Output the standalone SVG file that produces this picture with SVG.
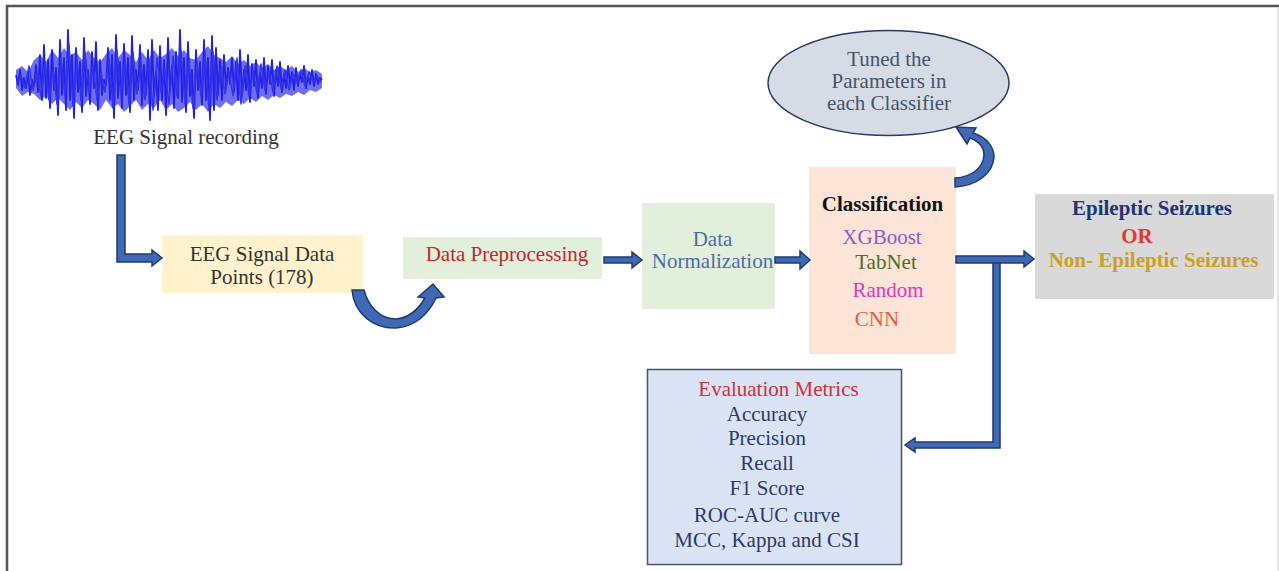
<svg xmlns="http://www.w3.org/2000/svg" width="1279" height="571" viewBox="0 0 1279 571">
<defs>
<style>
text{font-family:"Liberation Serif","Times New Roman",serif;font-size:21px;text-anchor:middle}
.b{font-weight:bold}
.arrow{fill:#3F68B5;stroke:#1F3B70;stroke-width:1.5;stroke-linejoin:miter}
.dark{fill:#333333}
.nav{fill:#2B3A67}
</style>
</defs>
<rect x="0" y="0" width="1279" height="571" fill="#ffffff"/>
<g id="frame">
<line x1="6" y1="6" x2="1279" y2="6" stroke="#555555" stroke-width="2.5"/>
<line x1="7" y1="5" x2="7" y2="571" stroke="#555555" stroke-width="2.5"/>
<line x1="1278" y1="7" x2="1278" y2="571" stroke="#dddddd" stroke-width="1.5"/>
</g>
<g id="eeg-recording">
<polygon fill="#3030E8" opacity="0.7" points="16,70 22,66 28,72 34,60 40,55 46,62 52,50 58,58 64,48 70,56 76,52 82,60 88,50 94,58 100,62 106,54 112,48 118,58 124,50 130,55 136,62 142,52 148,60 154,50 160,58 166,54 172,48 178,56 184,50 190,58 196,60 202,52 208,46 214,55 220,58 226,62 232,56 238,64 244,60 250,66 256,62 262,68 268,64 274,70 280,66 286,70 292,66 298,72 304,68 310,72 316,70 322,74 322,88 316,92 310,90 304,95 298,92 292,96 286,94 280,98 274,95 268,100 262,96 256,102 250,98 244,104 238,100 232,106 226,102 220,108 214,104 208,112 202,104 196,110 190,102 184,108 178,112 172,104 166,110 160,100 154,108 148,104 142,110 136,100 130,106 124,112 118,104 112,108 106,100 100,110 94,104 88,100 82,108 76,102 70,110 64,104 58,98 52,104 46,96 40,100 34,94 28,92 22,96 16,88"/>
<polyline fill="none" stroke="#2222E6" stroke-width="1.8" stroke-linejoin="round" points="16,75 18,85 20,70 22,90 24,78 26,88 28,72 30,95 32,80 34,86 36,65 38,92 40,55 42,100 44,45 46,98 48,60 50,108 52,50 54,90 56,68 58,115 60,40 62,95 64,58 66,110 68,30 70,100 72,55 74,118 76,48 78,92 80,62 82,112 84,38 86,96 88,70 90,104 92,52 94,88 96,42 98,110 100,60 102,95 104,80 106,85 108,48 110,100 112,55 114,118 116,35 118,98 120,62 122,108 124,44 126,95 128,58 130,112 132,36 134,100 136,70 138,90 140,45 142,105 144,65 146,95 148,50 150,120 152,40 154,96 156,72 158,110 160,46 162,100 164,60 166,115 168,38 170,92 172,66 174,108 176,52 178,98 180,30 182,102 184,58 186,112 188,42 190,96 192,70 194,118 196,50 198,90 200,62 202,105 204,40 206,100 208,58 210,120 212,36 214,110 216,48 218,95 220,60 222,100 224,55 226,88 228,68 230,84 232,58 234,92 236,62 238,100 240,50 242,96 244,70 246,90 248,55 250,102 252,64 254,86 256,60 258,98 260,72 262,88 264,58 266,94 268,66 270,84 272,60 274,96 276,70 278,86 280,62 282,92 284,74 286,88 288,66 290,84 292,72 294,90 296,68 298,86 300,74 302,82 304,66 306,88 308,76 310,84 312,70 314,86 316,74 318,84 320,78 322,80"/>
<polyline fill="none" stroke="#3333EE" stroke-width="1.5" stroke-linejoin="round" points="17,82 21,76 25,88 29,66 33,90 37,74 41,96 45,62 49,100 53,70 57,104 61,58 65,96 69,44 73,106 77,60 81,100 85,52 89,92 93,66 97,100 101,72 105,92 109,58 113,108 117,50 121,96 125,60 129,104 133,52 137,94 141,62 145,100 149,60 153,110 157,58 161,92 165,70 169,104 173,56 177,96 181,50 185,104 189,60 193,108 197,64 201,96 205,54 209,110 213,52 217,100 221,66 225,94 229,72 233,96 237,58 241,104 245,66 249,96 253,70 257,94 261,64 265,90 269,72 273,92 277,66 281,88 285,70 289,90 293,74 297,82 301,70 305,86 309,72 313,82 317,76 321,82"/>
<text x="186" y="144" class="dark">EEG Signal recording</text>
</g>
<g id="eeg-data-points">
<rect x="162" y="235" width="201" height="58" fill="#FFF2CC"/>
<text x="262" y="261" class="dark">EEG Signal Data</text>
<text x="262" y="284" class="dark">Points (178)</text>
</g>
<g id="data-preprocessing">
<rect x="403" y="237" width="199" height="42" fill="#E2EFDA"/>
<text x="507" y="261" fill="#C0282D">Data Preprocessing</text>
</g>
<g id="data-normalization">
<rect x="642" y="203" width="133" height="106" fill="#E2EFDA"/>
<text x="712.5" y="246" fill="#4A6DA7">Data</text>
<text x="712.5" y="268" fill="#4A6DA7">Normalization</text>
</g>
<g id="classification">
<rect x="809" y="167" width="147" height="187" fill="#FCE4D6"/>
<text x="882.5" y="211" class="b" fill="#111111">Classification</text>
<text x="882" y="244" fill="#8E5DC8">XGBoost</text>
<text x="886" y="269" fill="#4E6B2E">TabNet</text>
<text x="888" y="297" fill="#E03AB5">Random</text>
<text x="877" y="326" fill="#E0604A">CNN</text>
</g>
<g id="tuned-parameters">
<ellipse cx="888.5" cy="83" rx="120.5" ry="52.5" fill="#D6DCE5" stroke="#2A3A5C" stroke-width="1.5"/>
<text x="889" y="66" fill="#44546A">Tuned the</text>
<text x="889" y="88" fill="#44546A">Parameters in</text>
<text x="889" y="110" fill="#44546A">each Classifier</text>
</g>
<g id="output">
<rect x="1035" y="194" width="239" height="105" fill="#D9D9D9"/>
<text x="1152" y="215" class="b" fill="#1F3474">Epileptic Seizures</text>
<text x="1137" y="243" class="b" fill="#E03A2F">OR</text>
<text x="1153.5" y="267" class="b" fill="#C9A020">Non- Epileptic Seizures</text>
</g>
<g id="evaluation-metrics">
<rect x="647.5" y="369.5" width="254" height="195" fill="#DAE3F3" stroke="#44546A" stroke-width="1.5"/>
<text x="778.5" y="396" fill="#D0303A">Evaluation Metrics</text>
<text x="767" y="421" class="nav">Accuracy</text>
<text x="767" y="445" class="nav">Precision</text>
<text x="767" y="470" class="nav">Recall</text>
<text x="767" y="495" class="nav">F1 Score</text>
<text x="767" y="522" class="nav">ROC-AUC curve</text>
<text x="767" y="547" class="nav">MCC, Kappa and CSI</text>
</g>
<g id="connectors">
<path class="arrow" d="M117,155 H125 V254 H152 V250 L162,258 L152,266 V262 H117 Z"/>
<path class="arrow" d="M352,290 C354,314 374,329 396,328 C414,327 428,315 436,298 L444,297 L433,284 L418,297 L425,298 C418,310 408,318 396,319 C380,319 368,306 364,290 Z"/>
<path class="arrow" d="M604,257 H632 V252 L642,260 L632,268 V263 H604 Z"/>
<path class="arrow" d="M775,257 H800 V251 L810,260 L800,269 V263 H775 Z"/>
<path class="arrow" d="M993,260 H1000 V448 H915 V452 L905,445 L915,438 V442 H993 Z"/>
<path class="arrow" d="M956,256 H1024 V251 L1034,259 L1024,267 V263 H956 Z"/>
<path class="arrow" d="M955,178 C972,177 983,168 984,155 C984,147 978,141 970,138 L967,144 L956,127 L976,128 L973,133 C986,137 994,146 994,157 C993,174 976,186 955,187 Z"/>
</g>
</svg>
